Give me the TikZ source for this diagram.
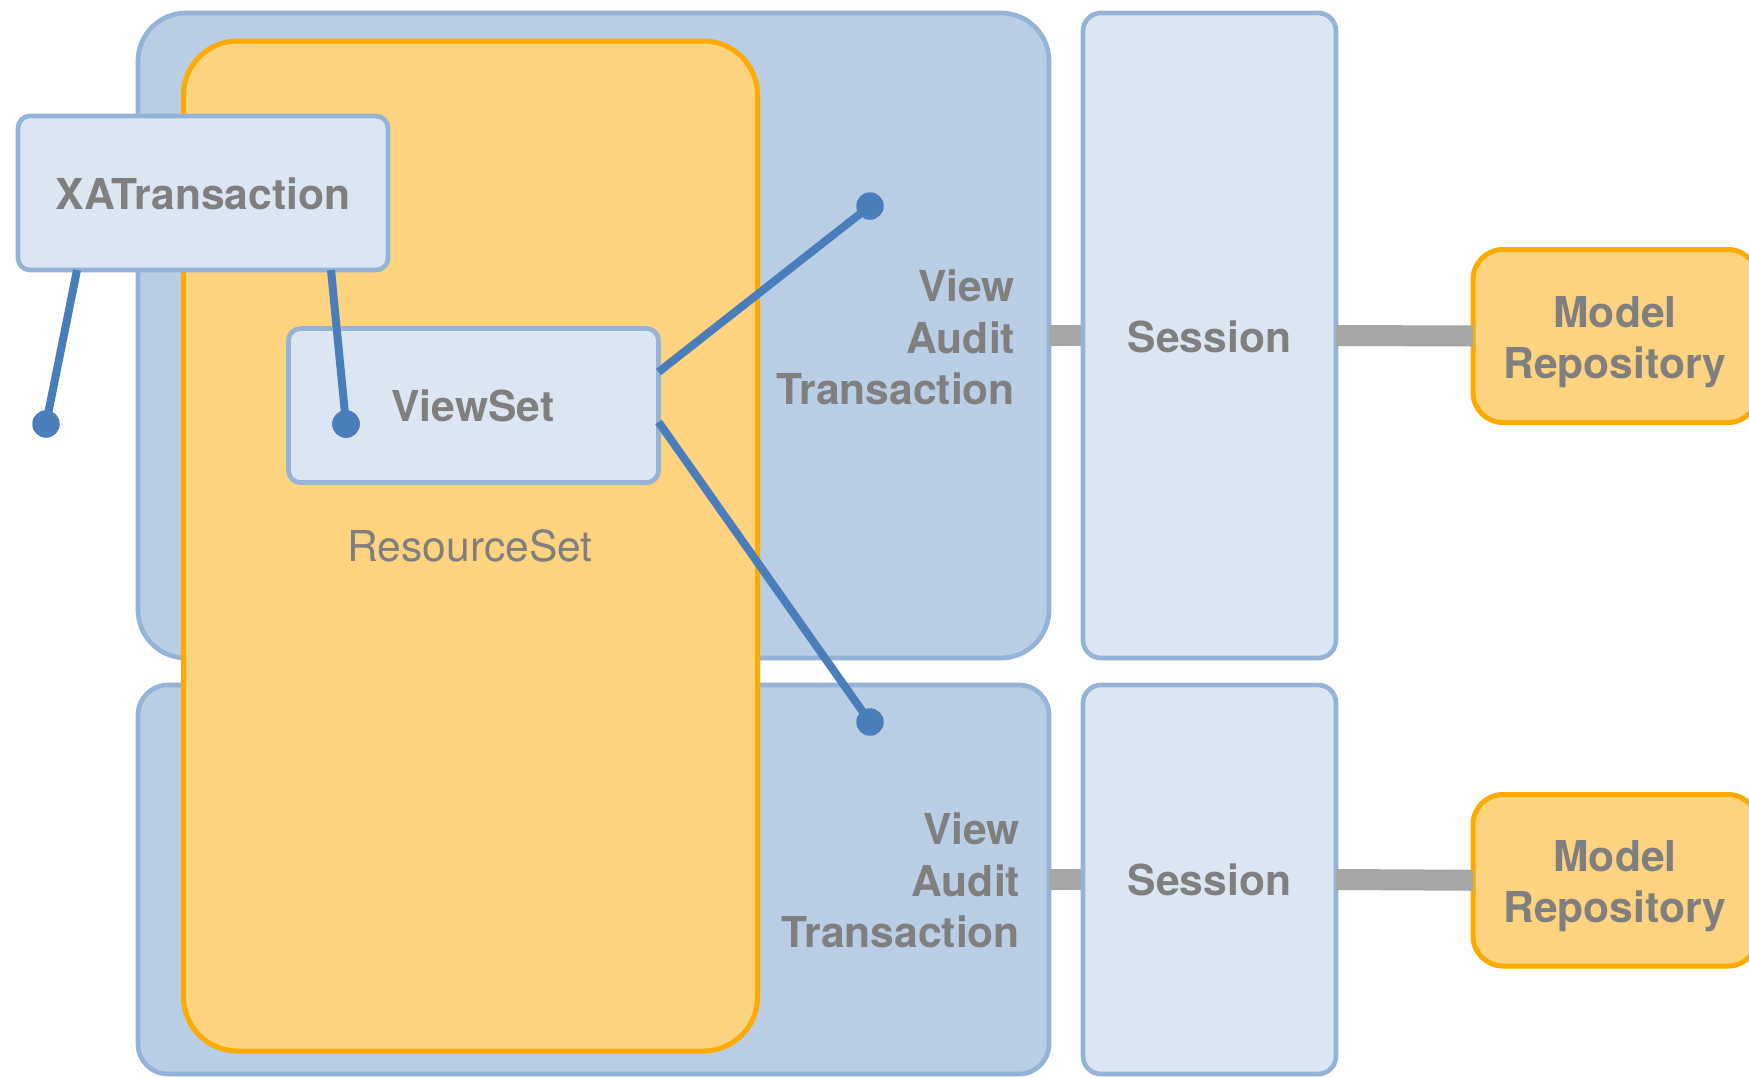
\documentclass[tikz,border=0pt]{standalone}
\usepackage{fontspec}
\setmainfont{TeX Gyre Heros}
\usetikzlibrary{fit}
\definecolor{bigfill}{HTML}{B9CDE5}
\definecolor{boxline}{HTML}{95B3D7}
\definecolor{lightfill}{HTML}{DCE6F2}
\definecolor{orfill}{HTML}{FDD37F}
\definecolor{orline}{HTML}{FFAA00}
\definecolor{conn}{HTML}{4A7EBB}
\definecolor{barcol}{HTML}{A6A6A6}
\definecolor{txt}{HTML}{7F7F7F}
\begin{document}
\begin{tikzpicture}[x=0.5pt,y=-0.5pt,
  area/.style={rectangle, inner sep=0pt, outer sep=0pt, line width=2.35pt},
  bigbox/.style={area, fill=bigfill, draw=boxline},
  lightbox/.style={area, fill=lightfill, draw=boxline},
  orbox/.style={area, fill=orfill, draw=orline, line width=2.5pt},
  lbl/.style={inner sep=0pt, outer sep=0pt, text=txt, font=\fontsize{21.3pt}{25.75pt}\selectfont\bfseries},
  plainlbl/.style={inner sep=0pt, outer sep=0pt, text=txt, font=\fontsize{21.3pt}{25.75pt}\selectfont},
  link/.style={draw=conn, line width=4pt},
  dotnode/.style={circle, fill=conn, inner sep=0pt, minimum size=13.75pt},
  barline/.style={draw=barcol, line width=10.5pt}
]
\useasboundingbox (0,0) rectangle (1749,1077);
\begin{scope}
\clip (0,0) rectangle (1749,1077);
% big blue areas
\node[bigbox, rounded corners=24pt, fit={(138,13) (1049,658)}] (tb) {};
\node[bigbox, rounded corners=15pt, fit={(138,685) (1049,1074)}] (bb) {};
% resource set
\node[orbox, rounded corners=27pt, fit={(183.5,41) (757.5,1051)}] (rs) {};
% bars
\draw[barline] (tb.east) -- (1083,335.5);
\draw[barline] (bb.east) -- (1083,879.5);
% sessions
\node[lightbox, rounded corners=9pt, fit={(1083,13) (1336,658)}] (st) {};
\node[lightbox, rounded corners=9pt, fit={(1083,685) (1336,1074)}] (sb) {};
% model repositories
\node[orbox, rounded corners=15pt, fit={(1473,249.5) (1758,422.5)}] (mt) {};
\node[orbox, rounded corners=15pt, fit={(1473,794.5) (1758,966)}] (mb) {};
\draw[barline] (st.east) -- (mt.west);
\draw[barline] (sb.east) -- (mb.west);
% labels on areas
\node[plainlbl, anchor=base] (rslbl) at (470,561) {ResourceSet};
\node[lbl, anchor=north east, align=right] (vat1) at (1015,270) {View\\Audit\\Transaction};
\node[lbl, anchor=north east, align=right] (vat2) at (1020,813) {View\\Audit\\Transaction};
\node[lbl, anchor=base] (s1) at (1209.5,352) {Session};
\node[lbl, anchor=base] (s2) at (1209.5,895) {Session};
\node[lbl, anchor=north, align=center] (m1) at (1615,296) {Model\\Repository};
\node[lbl, anchor=north, align=center] (m2) at (1615,840) {Model\\Repository};
% boxes
\node[lightbox, rounded corners=6pt, fit={(18,116) (388,270)}] (xa) {};
\node[lightbox, rounded corners=6pt, fit={(288.5,328.5) (658.5,482.5)}] (vs) {};
% dots
\node[dotnode] (d1) at (46,424) {};
\node[dotnode] (d3) at (870,206) {};
\node[dotnode] (d4) at (870,722) {};
% links
\draw[link] ([xshift=29.5pt]xa.south west) -- (d1.center);
\draw[link] ([yshift=16.75pt]vs.east) -- (d3.center);
\draw[link] ([yshift=-8.25pt]vs.east) -- (d4.center);
\node[dotnode] (d2) at (346,424) {};
\draw[link] ([xshift=156.5pt]xa.south west) -- (d2.center);
\node[dotnode] at (d2) {};
% box labels
\node[lbl, anchor=base] (xalbl) at (203,209) {XATransaction};
\node[lbl, anchor=base] (vslbl) at (473,421) {ViewSet};
\end{scope}
\end{tikzpicture}
\end{document}
